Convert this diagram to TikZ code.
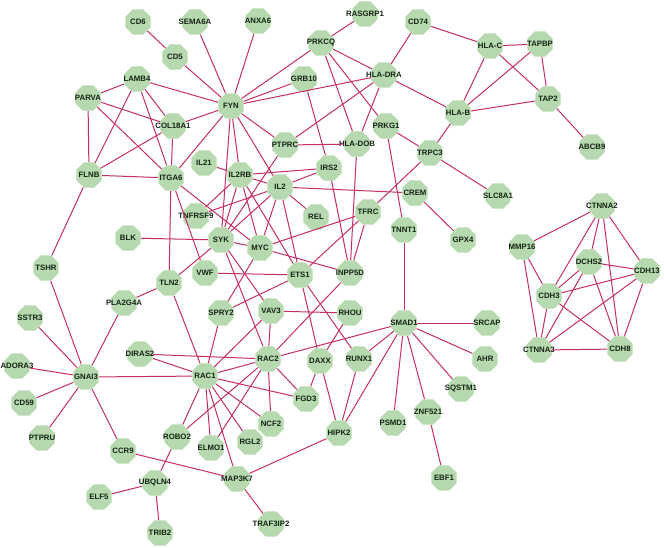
\documentclass[tikz,border=0pt]{standalone}
\usepackage{fontspec}
\setmainfont{Liberation Sans}
\usetikzlibrary{shapes.geometric}
\definecolor{nodefill}{HTML}{B7D9AF}
\definecolor{edgecol}{HTML}{C62F66}
\definecolor{txtcol}{HTML}{142414}
\tikzset{
  oct/.style={regular polygon, regular polygon sides=8, minimum size=27.5pt, inner sep=0pt, fill=nodefill, draw=none},
  lab/.style={font=\fontsize{7.8}{8}\selectfont\bfseries, text=txtcol, inner sep=0pt},
  edge/.style={draw=edgecol, line width=1pt}
}
\newcommand{\gn}[3]{\node[oct, label={[lab]center:#3}] (#1) at (#2) {};}
\begin{document}
\begin{tikzpicture}[x=1pt,y=-1pt]
\useasboundingbox[fill=white] (0,0) rectangle (664,547);
\gn{CD6}{138,22}{CD6}
\gn{SEMA6A}{195,22}{SEMA6A}
\gn{ANXA6}{258,21}{ANXA6}
\gn{RASGRP1}{365,14}{RASGRP1}
\gn{CD74}{418,22}{CD74}
\gn{PRKCQ}{321,43}{PRKCQ}
\gn{HLAC}{490,46}{HLA-C}
\gn{TAPBP}{540,44}{TAPBP}
\gn{CD5}{175,57}{CD5}
\gn{GRB10}{304,79}{GRB10}
\gn{HLADRA}{384,75}{HLA-DRA}
\gn{LAMB4}{137,79}{LAMB4}
\gn{FYN}{231,106}{FYN}
\gn{PARVA}{88,98}{PARVA}
\gn{COL18A1}{173,126}{COL18A1}
\gn{HLAB}{458,113}{HLA-B}
\gn{TAP2}{548,99}{TAP2}
\gn{ABCB9}{592,147}{ABCB9}
\gn{PRKG1}{386,126}{PRKG1}
\gn{PTPRC}{285,145}{PTPRC}
\gn{HLADOB}{357,144}{HLA-DOB}
\gn{TRPC3}{430,153}{TRPC3}
\gn{IL21}{204,163}{IL21}
\gn{FLNB}{89,175}{FLNB}
\gn{ITGA6}{171,178}{ITGA6}
\gn{IL2RB}{240,175}{IL2RB}
\gn{IRS2}{329,168}{IRS2}
\gn{IL2}{280,187}{IL2}
\gn{CREM}{415,193}{CREM}
\gn{SLC8A1}{498,196}{SLC8A1}
\gn{TNFRSF9}{196,216}{TNFRSF9}
\gn{REL}{316,217}{REL}
\gn{TFRC}{368,212}{TFRC}
\gn{TNNT1}{404,230}{TNNT1}
\gn{GPX4}{463,240}{GPX4}
\gn{CTNNA2}{602,206}{CTNNA2}
\gn{BLK}{128,238}{BLK}
\gn{SYK}{221,240}{SYK}
\gn{MYC}{260,248}{MYC}
\gn{MMP16}{522,247}{MMP16}
\gn{TSHR}{46,268}{TSHR}
\gn{VWF}{205,273}{VWF}
\gn{ETS1}{300,275}{ETS1}
\gn{INPP5D}{350,273}{INPP5D}
\gn{DCHS2}{589,262}{DCHS2}
\gn{CDH13}{647,271}{CDH13}
\gn{TLN2}{169,283}{TLN2}
\gn{PLA2G4A}{124,303}{PLA2G4A}
\gn{CDH3}{549,296}{CDH3}
\gn{SSTR3}{30,318}{SSTR3}
\gn{SPRY2}{221,313}{SPRY2}
\gn{VAV3}{271,311}{VAV3}
\gn{RHOU}{350,313}{RHOU}
\gn{SMAD1}{404,323}{SMAD1}
\gn{SRCAP}{487,323}{SRCAP}
\gn{DIRAS2}{140,354}{DIRAS2}
\gn{RAC2}{268,359}{RAC2}
\gn{DAXX}{320,361}{DAXX}
\gn{RUNX1}{359,359}{RUNX1}
\gn{CTNNA3}{539,350}{CTNNA3}
\gn{CDH8}{620,349}{CDH8}
\gn{ADORA3}{17,366}{ADORA3}
\gn{GNAI3}{86,377}{GNAI3}
\gn{RAC1}{205,376}{RAC1}
\gn{AHR}{485,359}{AHR}
\gn{FGD3}{306,399}{FGD3}
\gn{SQSTM1}{461,389}{SQSTM1}
\gn{CD59}{24,403}{CD59}
\gn{NCF2}{271,424}{NCF2}
\gn{PTPRU}{42,438}{PTPRU}
\gn{ROBO2}{177,437}{ROBO2}
\gn{ELMO1}{211,448}{ELMO1}
\gn{RGL2}{250,442}{RGL2}
\gn{HIPK2}{339,433}{HIPK2}
\gn{PSMD1}{393,423}{PSMD1}
\gn{ZNF521}{428,412}{ZNF521}
\gn{CCR9}{123,451}{CCR9}
\gn{UBQLN4}{155,483}{UBQLN4}
\gn{MAP3K7}{237,479}{MAP3K7}
\gn{ELF5}{99,497}{ELF5}
\gn{EBF1}{444,478}{EBF1}
\gn{TRAF3IP2}{271,524}{TRAF3IP2}
\gn{TRIB2}{160,533}{TRIB2}
\foreach \a/\b in {CD6/CD5, CD5/FYN, SEMA6A/FYN, ANXA6/FYN, RASGRP1/PRKCQ,
 LAMB4/PARVA, LAMB4/FYN, LAMB4/COL18A1, LAMB4/FLNB, LAMB4/ITGA6,
 PARVA/COL18A1, PARVA/FLNB, PARVA/ITGA6,
 COL18A1/FYN, COL18A1/FLNB, COL18A1/ITGA6,
 FLNB/ITGA6, FLNB/TSHR,
 FYN/ITGA6, FYN/PRKCQ, FYN/GRB10, FYN/HLADRA, FYN/PTPRC, FYN/IL2RB, FYN/SYK, FYN/IL2,
 PRKCQ/HLADRA, PRKCQ/HLADOB, PRKCQ/PRKG1,
 CD74/HLADRA, CD74/HLAC,
 HLAC/TAPBP, HLAC/HLAB, HLAC/TAP2, TAPBP/HLAB, TAPBP/TAP2, HLAB/TAP2, TAP2/ABCB9,
 HLADRA/HLAB, HLADRA/PTPRC, HLADRA/HLADOB,
 HLAB/TRPC3, PRKG1/TRPC3, PRKG1/TNNT1, TRPC3/SLC8A1, TRPC3/TFRC,
 PTPRC/HLADOB, PTPRC/SYK, GRB10/IRS2, HLADOB/INPP5D, IRS2/INPP5D,
 IL21/IL2RB, IL2RB/IRS2, IL2RB/IL2, IRS2/IL2, IL2/CREM, IL2/REL, IL2/TNFRSF9, IL2/SYK, IL2/MYC, IL2/ETS1,
 IL2RB/TNFRSF9, IL2RB/SYK, IL2RB/MYC, IL2RB/ETS1,
 CREM/GPX4,
 ITGA6/MYC, ITGA6/TLN2, ITGA6/VWF,
 BLK/SYK, SYK/TLN2, SYK/MYC, SYK/VAV3, SYK/RAC2,
 MYC/SPRY2, MYC/INPP5D, MYC/TFRC,
 VWF/ETS1, TFRC/ETS1, TFRC/INPP5D,
 ETS1/SPRY2, ETS1/DAXX, ETS1/RUNX1, INPP5D/RAC2,
 TLN2/PLA2G4A, TLN2/RAC1,
 TSHR/GNAI3, GNAI3/SSTR3, GNAI3/ADORA3, GNAI3/CD59, GNAI3/PLA2G4A, GNAI3/RAC1, GNAI3/PTPRU, GNAI3/CCR9,
 VAV3/RHOU, VAV3/RAC2, VAV3/RAC1, SPRY2/RAC1, RHOU/DAXX,
 RAC2/SMAD1, RAC1/RAC2, DIRAS2/RAC1, DIRAS2/RAC2,
 RAC1/FGD3, RAC2/FGD3, RAC2/NCF2, RAC1/NCF2, DAXX/FGD3, DAXX/HIPK2, RUNX1/HIPK2,
 RAC2/ROBO2, RAC2/ELMO1, RAC1/ROBO2, RAC1/ELMO1, RAC1/RGL2, RAC1/MAP3K7,
 MAP3K7/HIPK2, CCR9/MAP3K7, UBQLN4/ROBO2, UBQLN4/ELF5, UBQLN4/TRIB2, MAP3K7/TRAF3IP2,
 SMAD1/TNNT1, SMAD1/SRCAP, SMAD1/AHR, SMAD1/SQSTM1, SMAD1/ZNF521, SMAD1/PSMD1, SMAD1/RUNX1, SMAD1/HIPK2, ZNF521/EBF1,
 CTNNA2/MMP16, CTNNA2/CDH13, CTNNA2/DCHS2, CTNNA2/CDH3, CTNNA2/CDH8, CTNNA3/DCHS2, MMP16/CDH3, MMP16/CTNNA3,
 DCHS2/CDH3, DCHS2/CDH13, DCHS2/CDH8, CDH3/CDH13, CTNNA3/CDH13, CDH13/CDH8, CDH3/CTNNA3, CDH3/CDH8, CTNNA3/CDH8}
 { \draw[edge] (\a) -- (\b); }
\end{tikzpicture}
\end{document}
